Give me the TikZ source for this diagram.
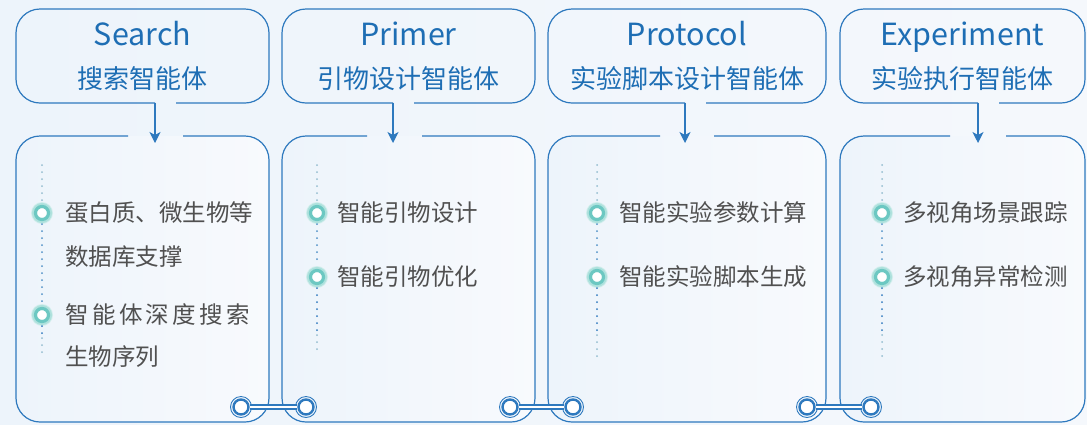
\documentclass[tikz,border=0pt]{standalone}
\usepackage{fontspec}
\usepackage{xcolor}
\newfontfamily\cjk{Noto Sans CJK SC}
\usetikzlibrary{positioning}
\usetikzlibrary{arrows.meta}
\definecolor{lineblue}{HTML}{2E79BE}
\definecolor{titleblue}{HTML}{1E6EB4}
\definecolor{itemgray}{HTML}{505050}
\definecolor{glowteal}{HTML}{6CC8C2}
\definecolor{bgL}{HTML}{EDF4FB}
\definecolor{bgR}{HTML}{F5F8FC}
\definecolor{panelL}{HTML}{EDF4FB}
\definecolor{panelR}{HTML}{F8FAFD}
\definecolor{dotlight}{HTML}{93BCCF}
\definecolor{dotmid}{HTML}{4F90C6}
\definecolor{dotdark}{HTML}{2F78BE}

\begin{document}
\begin{tikzpicture}[x=1pt, y=-1pt, font=\cjk]
			\tikzstyle{title}=[text=titleblue, font=\cjk\fontsize{30.5}{30.5}\selectfont, inner sep=0pt, anchor=base]
			\tikzstyle{subtitle}=[text=titleblue, font=\cjk\fontsize{26}{26}\selectfont, inner sep=0pt, anchor=base]
			\tikzstyle{item}=[text=itemgray, font=\cjk\fontsize{23.5}{23.5}\selectfont, inner sep=0pt, anchor=west]
			\tikzstyle{frame}=[draw=lineblue, line width=1.2pt, rounded corners=24pt]
			\tikzstyle{panel}=[frame, left color=panelL, right color=panelR]
			\tikzstyle{flow}=[-{Stealth[length=11pt, width=11pt, inset=3pt]}, draw=lineblue, fill=lineblue, line width=1.2pt]
			\tikzstyle{glow}=[circle, inner sep=0pt, minimum size=22pt, fill=glowteal!30]
			\tikzstyle{bullet}=[circle, inner sep=0pt, minimum size=13pt, fill=white, draw=glowteal, line width=3.2pt, preaction={draw=glowteal!55, line width=7pt}]
			\tikzstyle{joint}=[circle, inner sep=0pt, minimum size=15pt, fill=white, draw=lineblue, line width=2.4pt]
			\tikzstyle{link}=[draw=lineblue, double=white, double distance=2.6pt, line width=1.4pt]
			\tikzstyle{trail}=[line width=2pt, line cap=round, dash pattern=on 0pt off 7pt]

			\useasboundingbox (0,0) rectangle (1087,424);
			\fill[left color=bgL, right color=bgR] (0,0) rectangle (1087,424);

			% bottom panels
			\shade[panel] (128,136) -| (16,422) -| (269,136) -- (183,136);
			\shade[panel] (367,136) -| (282,422) -| (535,136) -- (422,136);
			\shade[panel] (660,136) -| (548,422) -| (826,136) -- (714,136);
			\shade[panel] (950,136) -| (840,422) -| (1085,136) -- (1006,136);

			% top boxes
			\draw[frame] (155,103) -| (16,9) -| (269,103) -- (176,103);
			\draw[frame] (393,103) -| (282,9) -| (535,103) -- (414,103);
			\draw[frame] (685,103) -| (548,9) -| (826,103) -- (706,103);
			\draw[frame] (978,103) -| (840,9) -| (1085,103) -- (999,103);

			\node[title] (search) at (142.5,45) {Search};
			\node[subtitle] (searchcn) at (142.5,88) {搜索智能体};
			\node[title] (primer) at (408.5,45) {Primer};
			\node[subtitle] (primercn) at (408.5,88) {引物设计智能体};
			\node[title] (protocol) at (687,45) {Protocol};
			\node[subtitle] (protocolcn) at (687,88) {实验脚本设计智能体};
			\node[title] (experiment) at (962.5,45) {Experiment};
			\node[subtitle] (experimentcn) at (962.5,88) {实验执行智能体};

			\coordinate (s1) at (155,103);
			\coordinate (t1) at (155,143);
			\coordinate (s2) at (393,103);
			\coordinate (t2) at (393,143);
			\coordinate (s3) at (685,103);
			\coordinate (t3) at (685,143);
			\coordinate (s4) at (978,103);
			\coordinate (t4) at (978,143);
			\draw[flow] (s1) -- (t1);
			\draw[flow] (s2) -- (t2);
			\draw[flow] (s3) -- (t3);
			\draw[flow] (s4) -- (t4);

			% item trails
			\node[glow] (g11) at (42,213) {};
			\node[glow] (g12) at (42,315) {};
			\node[glow] (g21) at (317,213) {};
			\node[glow] (g22) at (317,277) {};
			\node[glow] (g31) at (597,213) {};
			\node[glow] (g32) at (597,277) {};
			\node[glow] (g41) at (882,213) {};
			\node[glow] (g42) at (882,277) {};
			\coordinate (d1top) at (42,165);
			\coordinate (d1mid) at (42,338);
			\coordinate (d1bot) at (42,357);
			\coordinate (d2top) at (317,165);
			\coordinate (d2mid) at (317,335);
			\coordinate (d2bot) at (317,356);
			\coordinate (d3top) at (597,165);
			\coordinate (d3mid) at (597,335);
			\coordinate (d3bot) at (597,357);
			\coordinate (d4top) at (882,165);
			\coordinate (d4mid) at (882,335);
			\coordinate (d4bot) at (882,357);

			\draw[trail, dotlight] (d1top) -- (g11);
			\draw[trail, dotmid] (g11) -- (g12);
			\draw[trail, dotdark] (g12) -- (d1mid);
			\draw[trail, dotlight] (d1mid) -- (d1bot);
			\draw[trail, dotlight] (d2top) -- (g21);
			\draw[trail, dotmid] (g21) -- (g22);
			\draw[trail, dotdark] (g22) -- (d2mid);
			\draw[trail, dotlight] (d2mid) -- (d2bot);
			\draw[trail, dotlight] (d3top) -- (g31);
			\draw[trail, dotmid] (g31) -- (g32);
			\draw[trail, dotdark] (g32) -- (d3mid);
			\draw[trail, dotlight] (d3mid) -- (d3bot);
			\draw[trail, dotlight] (d4top) -- (g41);
			\draw[trail, dotmid] (g41) -- (g42);
			\draw[trail, dotdark] (g42) -- (d4mid);
			\draw[trail, dotlight] (d4mid) -- (d4bot);

			\node[bullet] (b11) at (g11) {};
			\node[bullet] (b12) at (g12) {};
			\node[bullet] (b21) at (g21) {};
			\node[bullet] (b22) at (g22) {};
			\node[bullet] (b31) at (g31) {};
			\node[bullet] (b32) at (g32) {};
			\node[bullet] (b41) at (g41) {};
			\node[bullet] (b42) at (g42) {};

			\node[item] (i11) at (65,213) {蛋白质、微生物等};
			\node[item] (i11b) at (65,257) {数据库支撑};
			\node[item] (i12) at (65,315) {\hbox to 185pt{智\hfil 能\hfil 体\hfil 深\hfil 度\hfil 搜\hfil 索}};
			\node[item] (i12b) at (65,357) {生物序列};
			\node[item] (i21) at (337,213) {智能引物设计};
			\node[item] (i22) at (337,277) {智能引物优化};
			\node[item] (i31) at (619,213) {智能实验参数计算};
			\node[item] (i32) at (619,277) {智能实验脚本生成};
			\node[item] (i41) at (903,213) {多视角场景跟踪};
			\node[item] (i42) at (903,277) {多视角异常检测};

			% joints between panels
			\node[joint] (j1a) at (241,407) {};
			\node[joint] (j1b) at (306,407) {};
			\node[joint] (j2a) at (510,407) {};
			\node[joint] (j2b) at (573,407) {};
			\node[joint] (j3a) at (807,407) {};
			\node[joint] (j3b) at (871,407) {};
			\draw[lineblue, line width=0.9pt] (j1a) circle (10.5pt) (j1b) circle (10.5pt) (j2a) circle (10.5pt) (j2b) circle (10.5pt) (j3a) circle (10.5pt) (j3b) circle (10.5pt);
			\draw[link] (j1a) -- (j1b);
			\draw[link] (j2a) -- (j2b);
			\draw[link] (j3a) -- (j3b);
		\end{tikzpicture}
\end{document}
